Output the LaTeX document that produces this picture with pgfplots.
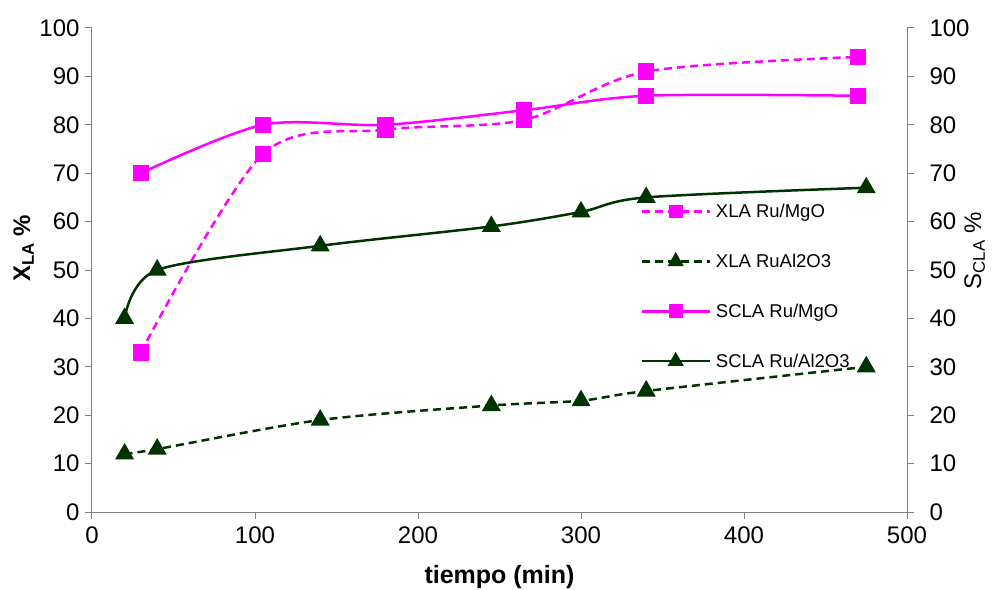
\documentclass[border=0pt]{standalone}
\usepackage{pgfplots}
\pgfplotsset{compat=1.18}
\usepackage{fontspec}
\setmainfont{Liberation Sans}
\definecolor{dg}{RGB}{0,51,0}
\definecolor{mg}{RGB}{255,0,255}
\definecolor{axg}{RGB}{128,128,128}
\begin{document}
\begin{tikzpicture}
\pgfplotsset{every axis/.append style={scale only axis, width=815pt, height=484pt,
  xmin=0, xmax=500, ymin=0, ymax=100,
  /pgf/number format/assume math mode=true,
  tick label style={font=\fontsize{24}{28}\selectfont},
  tick align=outside, major tick length=7pt,
  tick style={axg, line width=1pt},
  axis line style={axg, line width=1pt},
  ytick={0,10,...,100}, xtick={0,100,...,500},
}}
\begin{axis}[name=ax, axis x line*=bottom, axis y line*=left,
  yticklabel style={xshift=-2pt},
  xticklabel style={yshift=-4pt},
  xlabel={tiempo (min)},
  xlabel style={font=\fontsize{25}{29}\selectfont\bfseries, yshift=-18pt, inner sep=0pt},
  ylabel={X\textsubscript{LA} \%},
  ylabel style={font=\fontsize{24}{28}\selectfont\bfseries, at={(axis description cs:-0.084,0.545)}, anchor=center},
  legend style={at={(rel axis cs:0.669,0.645)}, anchor=north west, draw=none, fill=none,
    font=\fontsize{18.5}{22}\selectfont, row sep=31pt,
    nodes={inner xsep=5pt}},
  legend cell align=left,
  legend image code/.code={\draw[#1, line width=2.5pt, mark repeat=2, mark phase=2, every mark/.append style={scale=0.8}] plot coordinates {(0pt,0pt) (34pt,0pt) (68pt,0pt)};},
]
\addplot[mg, line width=2.5pt, dash pattern=on 8pt off 5pt, smooth, mark=square*, mark size=7pt, mark options={solid}]
  coordinates {(30,33) (105,74) (180,79) (265,81) (340,91) (470,94)};
\addlegendentry{XLA Ru/MgO}
\addplot[dg, line width=2.5pt, dash pattern=on 8pt off 5pt, smooth, mark=triangle*, mark size=8.5pt, mark options={solid}]
  coordinates {(20,12) (40,13) (140,19) (245,22) (300,23) (340,25) (475,30)};
\addlegendentry{XLA RuAl2O3}
\addplot[mg, line width=2.5pt, smooth, mark=square*, mark size=7pt]
  coordinates {(30,70) (105,80) (180,80) (265,83) (340,86) (470,86)};
\addlegendentry{SCLA Ru/MgO}
\addplot[dg, line width=2.5pt, smooth, mark=triangle*, mark size=8.5pt]
  coordinates {(20,40) (40,50) (140,55) (245,59) (300,62) (340,65) (475,67)};
\addlegendentry{SCLA Ru/Al2O3}
\end{axis}
\begin{axis}[axis x line=none, axis y line*=right,
  yticklabel style={xshift=12pt},
  ylabel={S\textsubscript{CLA} \%},
  ylabel style={font=\fontsize{24}{28}\selectfont, at={(axis description cs:1.083,0.54)}, anchor=center},
]
\end{axis}
\pgfresetboundingbox
\path ([xshift=-92pt,yshift=-77pt]ax.south west) rectangle ([xshift=86pt,yshift=28pt]ax.north east);
\end{tikzpicture}
\end{document}
